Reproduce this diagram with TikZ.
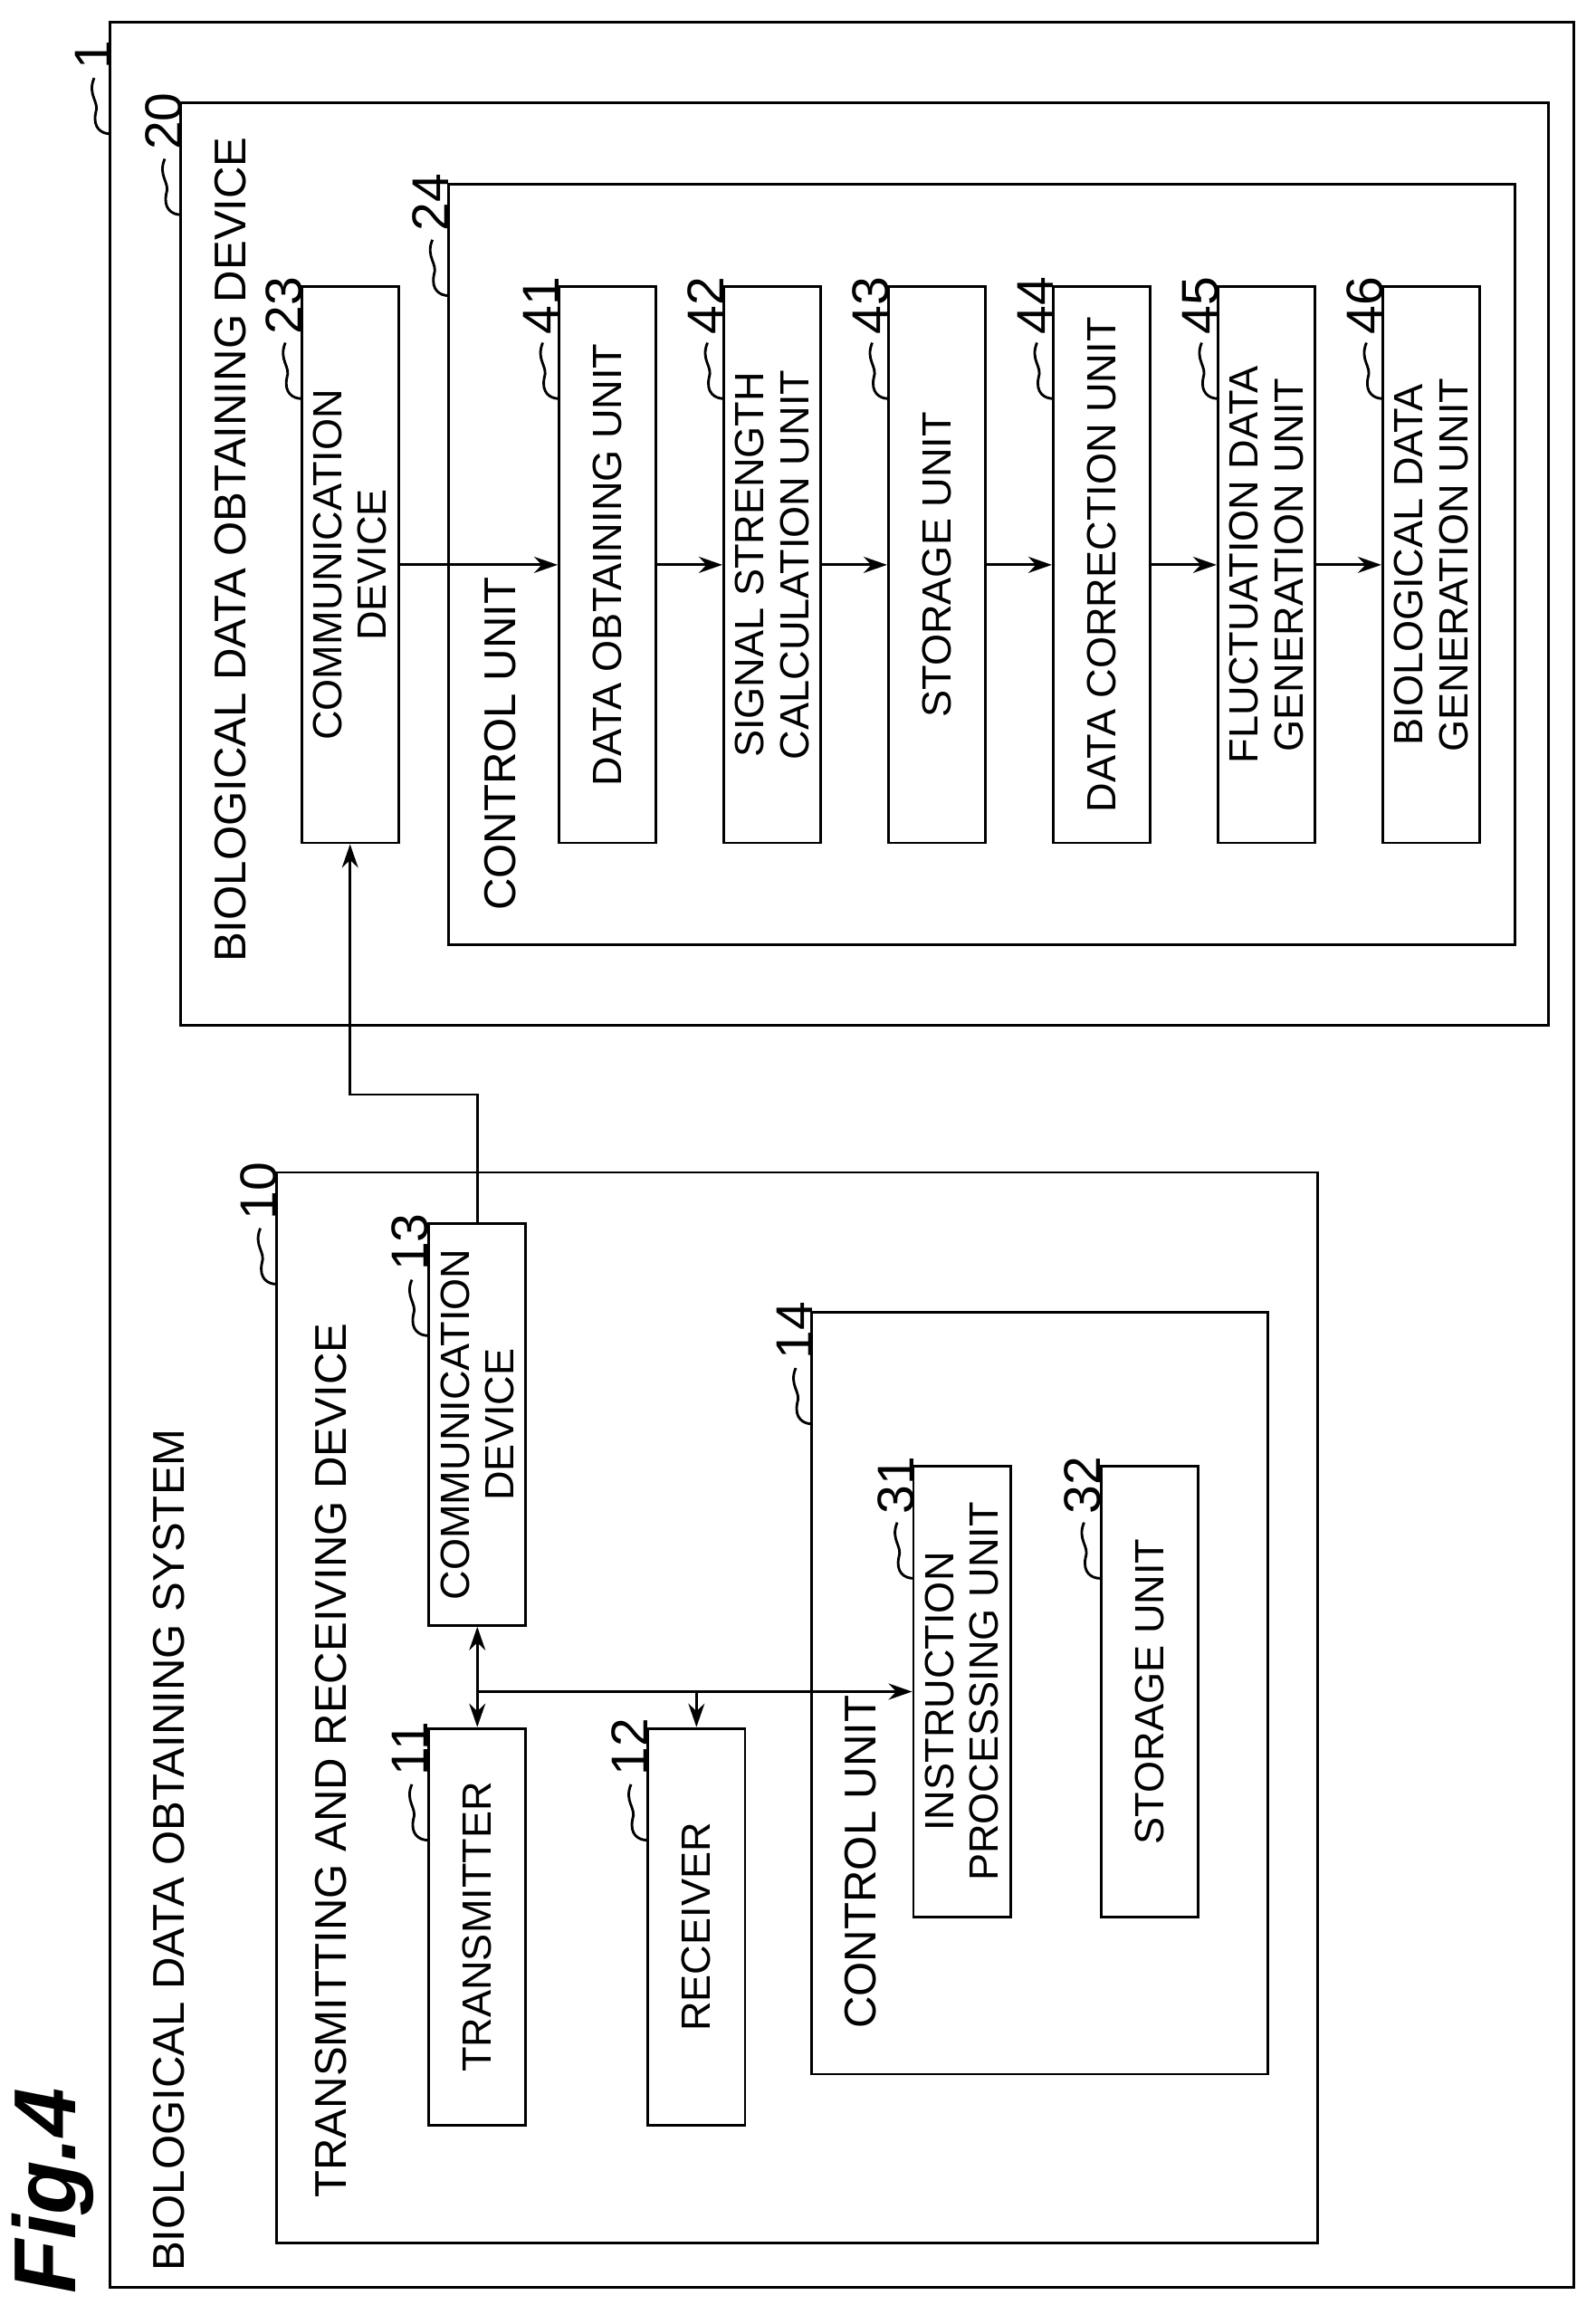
\documentclass[tikz,border=0pt]{standalone}
\usepackage{fontspec}
\setmainfont{Liberation Sans}
\usetikzlibrary{arrows.meta}
\tikzset{
  box/.style={draw, rotate=90, align=center, inner sep=0pt, minimum height=6.6mm, font=\fontsize{7.9}{8.6}\selectfont},
  title/.style={rotate=90, anchor=west, inner sep=0pt, font=\fontsize{8.6}{9}\selectfont},
  arr/.style={-{Stealth[length=1.6mm,width=1.1mm]}},
  darr/.style={{Stealth[length=1.6mm,width=1.1mm]}-{Stealth[length=1.6mm,width=1.1mm]}}
}
\newcommand{\callout}[3]{%
\draw (#1-11,#2+38) .. controls (#1-16,#2+50) and (#1-7,#2+54) .. (#1-10,#2+62)
  .. controls (#1-12,#2+72) and (#1-6,#2+76) .. (#1,#2+76);
\node[rotate=90, anchor=west, inner sep=0pt, font=\fontsize{10}{11}\selectfont] at (#1-12,#2+33) {#3};}
\begin{document}
\begin{tikzpicture}[x=0.1mm, y=-0.1mm, line width=0.5pt]
\useasboundingbox (0,0) rectangle (1085,1567);
% containers
\draw (75,15) rectangle (1070,1555);
\draw (123,70) rectangle (1053,697);
\draw (188,797) rectangle (896,1525);
\draw (305,125) rectangle (1030,642);
\draw (552,892) rectangle (862,1410);
\node[rotate=90, anchor=west, inner sep=0pt, font=\fontsize{17}{18}\bfseries\itshape\selectfont] (fig) at (36,1560) {Fig.4};
\node[title] (t1) at (115,1545) {BIOLOGICAL DATA OBTAINING SYSTEM};
\node[title] (t20) at (157,655) {BIOLOGICAL DATA OBTAINING DEVICE};
\node[title] (t10) at (225,1495) {TRANSMITTING AND RECEIVING DEVICE};
\node[title] (t24) at (340,620) {CONTROL UNIT};
\node[title] (t14) at (585,1380) {CONTROL UNIT};
% biological data obtaining device
\node[box, minimum width=37.8mm] (c23) at (238,384) {COMMUNICATION\\DEVICE};
\node[box, minimum width=37.8mm] (c41) at (413,384) {DATA OBTAINING UNIT};
\node[box, minimum width=37.8mm] (c42) at (525,384) {SIGNAL STRENGTH\\CALCULATION UNIT};
\node[box, minimum width=37.8mm] (c43) at (637,384) {STORAGE UNIT};
\node[box, minimum width=37.8mm] (c44) at (749,384) {DATA CORRECTION UNIT};
\node[box, minimum width=37.8mm] (c45) at (861,384) {FLUCTUATION DATA\\GENERATION UNIT};
\node[box, minimum width=37.8mm] (c46) at (973,384) {BIOLOGICAL DATA\\GENERATION UNIT};
% transmitting and receiving device
\node[box, minimum width=27.3mm] (c13) at (324.5,968.5) {COMMUNICATION\\DEVICE};
\node[box, minimum width=27mm] (c11) at (324.5,1310) {TRANSMITTER};
\node[box, minimum width=27mm] (c12) at (473.5,1310) {RECEIVER};
\node[box, minimum width=30.6mm] (c31) at (654,1150) {INSTRUCTION\\PROCESSING UNIT};
\node[box, minimum width=30.6mm] (c32) at (781.5,1150) {STORAGE UNIT};
% connectors
\draw[arr] (c23.south) -- (c41.north);
\draw[arr] (c41.south) -- (c42.north);
\draw[arr] (c42.south) -- (c43.north);
\draw[arr] (c43.south) -- (c44.north);
\draw[arr] (c44.south) -- (c45.north);
\draw[arr] (c45.south) -- (c46.north);
\draw[arr] (c13.east) -- ++(0,-87) -| (c23.west);
\draw[darr] (c13.west) -- (c11.east);
\coordinate (j) at (324.5,1150);
\draw[arr] (j) -- (c31.north);
\draw[arr] (j -| c12.east) -- (c12.east);
% reference numerals
\callout{75}{15}{1}
\callout{123}{70}{20}
\callout{188}{797}{10}
\callout{305}{125}{24}
\callout{552}{892}{14}
\callout{205}{195}{23}
\callout{291}{832}{13}
\callout{291}{1175}{11}
\callout{440}{1175}{12}
\callout{621}{997}{31}
\callout{748}{997}{32}
\callout{380}{195}{41}
\callout{492}{195}{42}
\callout{604}{195}{43}
\callout{716}{195}{44}
\callout{828}{195}{45}
\callout{940}{195}{46}
\end{tikzpicture}
\end{document}
